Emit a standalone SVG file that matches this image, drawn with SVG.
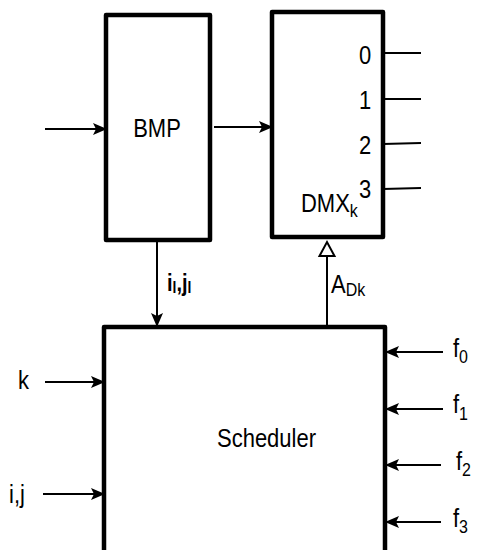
<svg xmlns="http://www.w3.org/2000/svg" width="481" height="550" viewBox="0 0 481 550">
  <style>
    .box { fill: #ffffff; stroke: #000000; stroke-width: 4.5; stroke-linejoin: round; }
    .wire { fill: none; stroke: #000000; stroke-width: 2; }
    .arr { fill: none; stroke: #000000; stroke-width: 2; marker-end: url(#ah); }
    .lbl { font-family: "Liberation Sans", Arial, sans-serif; font-size: 22px; fill: #000000; }
    .sub { font-size: 16px; }
  </style>
  <defs>
    <marker id="ah" markerUnits="userSpaceOnUse" markerWidth="14" markerHeight="12" refX="13" refY="6" orient="auto">
      <path d="M0,0 L14,6 L0,12 L3,6 Z" fill="#000000"/>
    </marker>
  </defs>
  <rect width="481" height="550" fill="#ffffff"/>

  <g id="bmp">
    <rect class="box" x="106" y="15" width="104" height="225"/>
    <g transform="translate(157,137) scale(1,1.15)"><text class="lbl" x="0" y="0" text-anchor="middle">BMP</text></g>
  </g>

  <g id="dmx">
    <rect class="box" x="272" y="12" width="111" height="225"/>
    <g transform="translate(365,64) scale(1,1.15)"><text class="lbl" text-anchor="middle">0</text></g>
    <g transform="translate(365,109) scale(1,1.15)"><text class="lbl" text-anchor="middle">1</text></g>
    <g transform="translate(365,154) scale(1,1.15)"><text class="lbl" text-anchor="middle">2</text></g>
    <g transform="translate(365,198) scale(1,1.15)"><text class="lbl" text-anchor="middle">3</text></g>
    <g transform="translate(301,212) scale(1,1.15)"><text class="lbl">DMX<tspan class="sub" dy="4">k</tspan></text></g>
  </g>

  <g id="scheduler">
    <path class="box" d="M104,556 V327 H385 V556"/>
    <g transform="translate(217,447) scale(1,1.15)"><text class="lbl">Scheduler</text></g>
  </g>

  <g id="connectors">
    <line class="arr" x1="45" y1="129" x2="106" y2="129"/>
    <line class="arr" x1="214" y1="127" x2="272" y2="127"/>
    <line class="wire" x1="383" y1="53" x2="421" y2="53"/>
    <line class="wire" x1="383" y1="99" x2="421" y2="99"/>
    <line class="wire" x1="383" y1="144" x2="421" y2="143"/>
    <line class="wire" x1="383" y1="189" x2="421" y2="188"/>
    <line class="arr" x1="157" y1="240" x2="157" y2="326"/>
    <line class="wire" x1="327" y1="327" x2="327" y2="256"/>
    <path d="M319.5,256 L327,242 L334.5,256 Z" fill="#ffffff" stroke="#000000" stroke-width="2" stroke-linejoin="miter"/>
    <line class="arr" x1="45" y1="382" x2="104" y2="382"/>
    <line class="arr" x1="43" y1="494" x2="104" y2="494"/>
    <line class="arr" x1="443" y1="352" x2="386" y2="352"/>
    <line class="arr" x1="443" y1="409" x2="386" y2="409"/>
    <line class="arr" x1="441" y1="465" x2="386" y2="465"/>
    <line class="arr" x1="441" y1="522" x2="386" y2="522"/>
  </g>

  <g id="labels">
    <g transform="translate(167,291) scale(1,1.15)"><text class="lbl" style="font-size:20px;font-weight:bold">i<tspan class="sub" dy="2" style="font-size:14px">l</tspan><tspan dy="-2">,j</tspan><tspan class="sub" dy="2" style="font-size:14px">l</tspan></text></g>
    <g transform="translate(331,293) scale(1,1.15)"><text class="lbl">A<tspan class="sub" dy="3">Dk</tspan></text></g>
    <g transform="translate(18,389) scale(1,1.15)"><text class="lbl">k</text></g>
    <g transform="translate(9,503) scale(1,1.15)"><text class="lbl">i,j</text></g>
    <g transform="translate(453,357) scale(1,1.15)"><text class="lbl">f<tspan class="sub" dy="5">0</tspan></text></g>
    <g transform="translate(453,413) scale(1,1.15)"><text class="lbl">f<tspan class="sub" dy="6">1</tspan></text></g>
    <g transform="translate(456,470) scale(1,1.15)"><text class="lbl">f<tspan class="sub" dy="5">2</tspan></text></g>
    <g transform="translate(453,527) scale(1,1.15)"><text class="lbl">f<tspan class="sub" dy="5">3</tspan></text></g>
  </g>
</svg>
